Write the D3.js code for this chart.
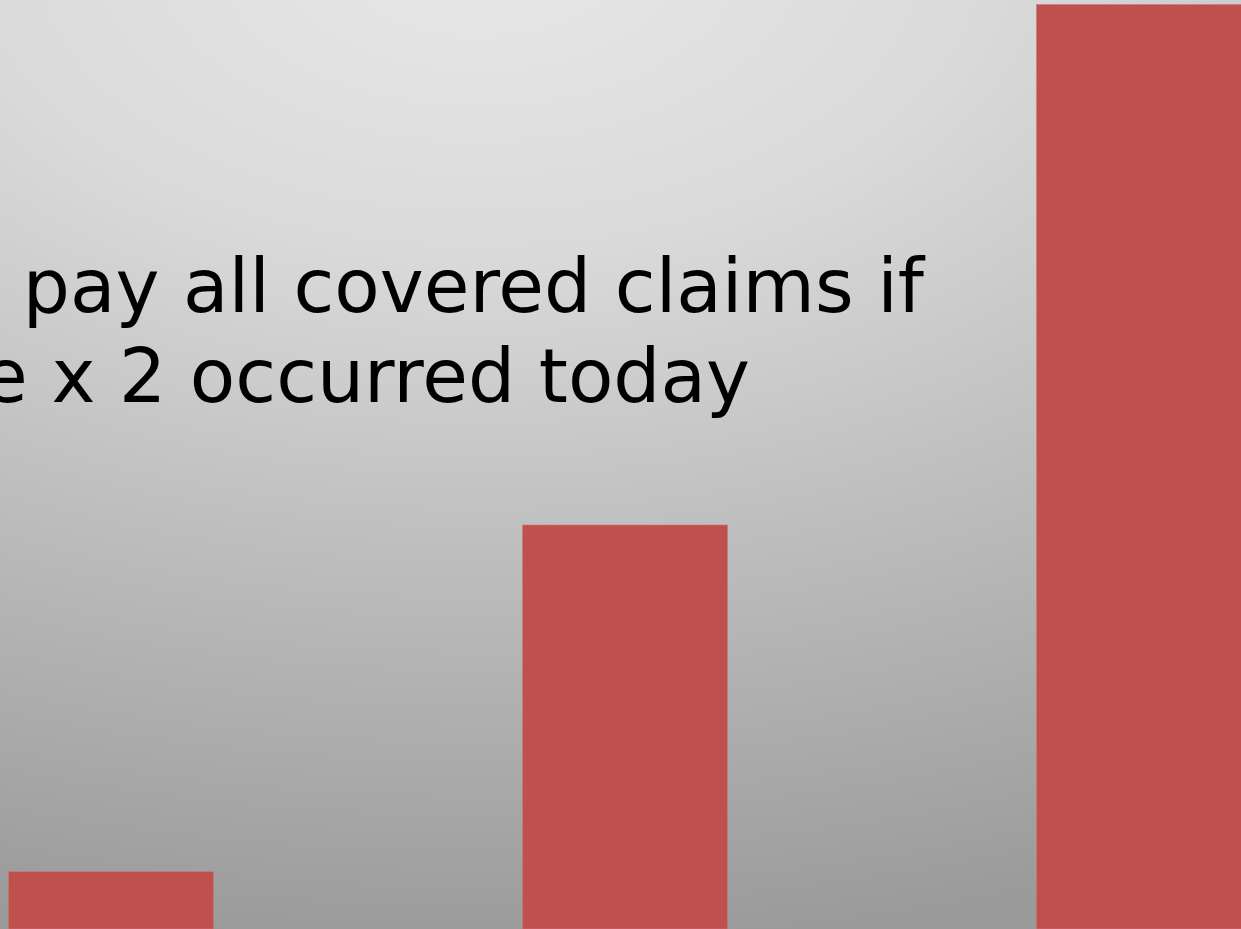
<!DOCTYPE html>
<html>
<head>
<meta charset="utf-8">
<script src="https://cdn.jsdelivr.net/npm/d3@7"></script>
<style>
  html, body { margin: 0; padding: 0; overflow: hidden; background: #9c9c9c; }
  svg { display: block; }
</style>
</head>
<body>
<svg id="chart" width="1241" height="929"></svg>
<script>
// Data (relative bar heights, tallest = 100)
const categories = ["A", "B", "C"];
const values = [6.2, 43.7, 100];
const titleLines = ["to pay all covered claims if", "hurricane x 2 occurred today"];

const W = 1241, H = 929;
const svg = d3.select("#chart");

// Background gradient
const defs = svg.append("defs");
const grad = defs.append("radialGradient")
  .attr("id", "bg")
  .attr("gradientUnits", "userSpaceOnUse")
  .attr("cx", 480).attr("cy", -50).attr("r", 1000)
  .attr("gradientTransform", "translate(480,-50) scale(1.7,1) translate(-480,50)");
[[0, "#e8e8e8"], [0.3, "#dadada"], [0.6, "#bebebe"], [1, "#9a9a9a"]].forEach(([o, c]) =>
  grad.append("stop").attr("offset", o).attr("stop-color", c));
svg.append("rect").attr("width", W).attr("height", H).attr("fill", "url(#bg)");

// Scales
const x = d3.scaleBand()
  .domain(categories)
  .range([8.5, 1241.5])
  .paddingInner(309 / 514)
  .paddingOuter(0);
const y = d3.scaleLinear().domain([0, 100]).range([929, 4.5]);

// Bars
svg.append("g").selectAll("rect")
  .data(categories.map((c, i) => ({ c, v: values[i] })))
  .join("rect")
  .attr("x", d => x(d.c))
  .attr("y", d => y(d.v))
  .attr("width", x.bandwidth())
  .attr("height", d => y(0) - y(d.v))
  .attr("fill", "#c0504d")
  .attr("stroke", "#c87a78")
  .attr("stroke-width", 0.6);

// Title text (cut off at the left edge, as in the reference)
const t = svg.append("text")
  .attr("font-family", "DejaVu Sans, Verdana, sans-serif")
  .attr("font-size", 74.3)
  .attr("fill", "#000")
  .attr("text-anchor", "end");
t.append("tspan").attr("x", 924).attr("y", 312).text(titleLines[0]);
t.append("tspan").attr("x", 750).attr("y", 402).text(titleLines[1]);
</script>
</body>
</html>
